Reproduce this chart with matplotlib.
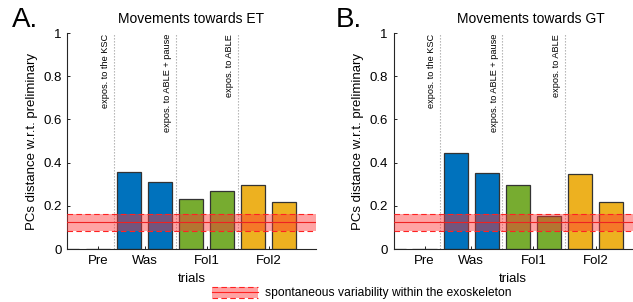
import matplotlib
matplotlib.use("Agg")
import matplotlib.pyplot as plt
from matplotlib.patches import Patch, Rectangle
from matplotlib.lines import Line2D
import matplotlib.legend_handler as lh

plt.rcParams['font.family'] = ['Liberation Sans', 'DejaVu Sans']

groups = ["Pre", "Was", "Fol1", "Fol2"]
group_ticks = [2, 3.5, 5.5, 7.5]
bar_pos = [1, 2, 3, 4, 5, 6, 7, 8]
vals_et = [0.0, 0.0, 0.358, 0.312, 0.230, 0.270, 0.298, 0.218]
vals_gt = [0.0, 0.0, 0.446, 0.353, 0.295, 0.151, 0.347, 0.216]
bar_colors = ["#0072BD", "#0072BD", "#0072BD", "#0072BD",
              "#77AC30", "#77AC30", "#EDB120", "#EDB120"]
band_mean = 0.123
band_sd = 0.038
event_pos = [2.5, 4.5, 6.5]
event_labels = ["expos. to the KSC", "expos. to ABLE + pause", "expos. to ABLE"]
titles = ["Movements towards ET", "Movements towards GT"]
panel_letters = ["A.", "B."]

W, H = 633, 302
fig = plt.figure(figsize=(W / 100, H / 100), dpi=100)

axes_px = [(67, 316), (393.5, 633)]
y0, y1 = 249, 33
xlims = [(1, 9.03), (1, 1 + (633 - 393.5) / 31.1)]
title_x = [0.5, 0.574]
letter_x = [12, 336]

for i, (vals, (xl, xr)) in enumerate(zip([vals_et, vals_gt], axes_px)):
    ax = fig.add_axes([xl / W, 1 - y0 / H, (xr - xl) / W, (y0 - y1) / H])
    ax.bar(bar_pos, vals, width=0.78, color=bar_colors, edgecolor="#333333",
           linewidth=0.9, zorder=2)
    ax.set_xlim(*xlims[i])
    ax.set_ylim(0, 1)
    for xp, lab in zip(event_pos, event_labels):
        ax.axvline(xp, color="#AAAAAA", linestyle=(0, (1.2, 1.5)), linewidth=0.8, zorder=1)
        ax.text(xp - 0.12, 0.995, lab, rotation=90, ha="right", va="top",
                fontsize=6.6, transform=ax.get_xaxis_transform())
    ax.axhspan(band_mean - band_sd, band_mean + band_sd, color="#FF3333",
               alpha=0.45, linewidth=0, zorder=3)
    ax.axhline(band_mean, color="#EE2222", linewidth=0.8, zorder=4)
    for yy in (band_mean - band_sd, band_mean + band_sd):
        ax.axhline(yy, color="#FF2222", linewidth=0.8, linestyle=(0, (5, 3)), zorder=4)
    ax.set_xticks(group_ticks)
    ax.set_xticklabels(groups)
    ax.set_yticks([0, 0.2, 0.4, 0.6, 0.8, 1])
    ax.set_yticklabels(["0", "0.2", "0.4", "0.6", "0.8", "1"])
    ax.tick_params(direction="in", length=2.5, width=0.6, labelsize=9.5, pad=4)
    for s in ("top", "right"):
        ax.spines[s].set_visible(False)
    for s in ("left", "bottom"):
        ax.spines[s].set_linewidth(0.8)
        ax.spines[s].set_color("#262626")
    ax.set_xlabel("trials", fontsize=9.5, labelpad=5)
    ax.set_ylabel("PCs distance w.r.t. preliminary", fontsize=9.5, labelpad=4)
    ax.set_title(titles[i], fontsize=10, pad=7, x=title_x[i])
    fig.text(letter_x[i] / W, 1 - 20 / H, panel_letters[i], fontsize=20, va="center", ha="left")


class BandHandler(lh.HandlerBase):
    def create_artists(self, legend, orig_handle, xdescent, ydescent, width, height, fontsize, trans):
        r = Rectangle((-xdescent, -ydescent), width, height, facecolor="#FF3333",
                      alpha=0.45, linewidth=0, transform=trans)
        arts = [r]
        for yy, ls in ((0, (0, (5, 3))), (height / 2, "-"), (height, (0, (5, 3)))):
            l = Line2D([-xdescent, -xdescent + width], [-ydescent + yy, -ydescent + yy],
                       color="#FF2222", linewidth=0.8, linestyle=ls, transform=trans)
            arts.append(l)
        return arts


handle = Patch()
fig.legend([handle], ["spontaneous variability within the exoskeleton"],
           handler_map={Patch: BandHandler()}, loc="center",
           bbox_to_anchor=(362 / W, 1 - 293 / H), frameon=False, fontsize=8.7,
           handlelength=3.8, handleheight=1.0, handletextpad=0.6)

fig.savefig("out.png", dpi=100)
